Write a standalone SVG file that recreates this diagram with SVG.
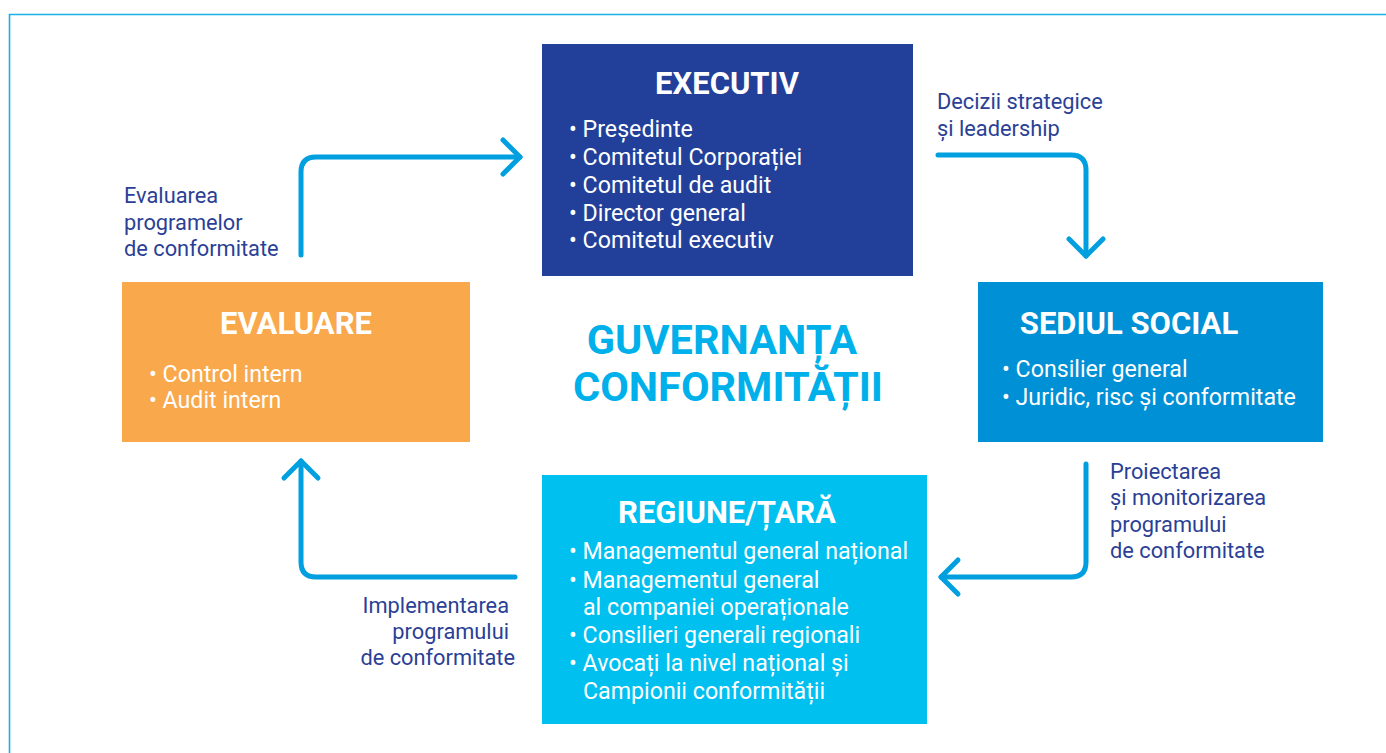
<svg xmlns="http://www.w3.org/2000/svg" width="1386" height="753" viewBox="0 0 1386 753">
<defs>
<style>
.title{font-family:Roboto,"Liberation Sans",sans-serif;font-weight:bold;font-size:31px;fill:#fff;text-anchor:middle;}
.item{font-family:Roboto,"Liberation Sans",sans-serif;font-size:23.2px;fill:#fff;}
.lbl{font-family:Roboto,"Liberation Sans",sans-serif;font-size:21.8px;fill:#2b3f96;}
.conn{fill:none;stroke:#009fe0;stroke-width:5;stroke-linecap:round;stroke-linejoin:round;}
.center{font-family:Roboto,"Liberation Sans",sans-serif;font-weight:bold;font-size:41.5px;fill:#00b0ea;text-anchor:middle;}
</style>
</defs>
<rect width="1386" height="753" fill="#fff"/>
<path d="M9.5 753 V14.5 H1386" fill="none" stroke="#1ab0e8" stroke-width="1.6"/>

<g id="connectors">
<path class="conn" d="M301 255 V172 Q301 157 316 157 H520"/>
<path class="conn" d="M503 140 L520 157 L503 174"/>
<path class="conn" d="M938 155 H1071 Q1086 155 1086 170 V256"/>
<path class="conn" d="M1069 239 L1086 256 L1103 239"/>
<path class="conn" d="M1086 464 V562 Q1086 577 1071 577 H941"/>
<path class="conn" d="M958 560 L941 577 L958 594"/>
<path class="conn" d="M515 577 H316 Q301 577 301 562 V461"/>
<path class="conn" d="M284 478 L301 461 L318 478"/>
</g>

<g id="label-evaluarea">
<text class="lbl" x="124" y="203">Evaluarea</text>
<text class="lbl" x="124" y="230">programelor</text>
<text class="lbl" x="124" y="256">de conformitate</text>
</g>
<g id="label-decizii">
<text class="lbl" x="937" y="109">Decizii strategice</text>
<text class="lbl" x="937" y="136">și leadership</text>
</g>
<g id="label-proiectarea">
<text class="lbl" x="1110" y="479">Proiectarea</text>
<text class="lbl" x="1110" y="505">și monitorizarea</text>
<text class="lbl" x="1110" y="532">programului</text>
<text class="lbl" x="1110" y="558">de conformitate</text>
</g>
<g id="label-implementarea">
<text class="lbl" x="509" y="613" text-anchor="end">Implementarea</text>
<text class="lbl" x="509" y="639" text-anchor="end">programului</text>
<text class="lbl" x="515" y="665" text-anchor="end">de conformitate</text>
</g>

<g id="executiv">
<rect x="542" y="44" width="371" height="232" fill="#22409a"/>
<text class="title" x="727" y="94">EXECUTIV</text>
<text class="item" x="569" y="137">• Președinte</text>
<text class="item" x="569" y="165">• Comitetul Corporației</text>
<text class="item" x="569" y="193">• Comitetul de audit</text>
<text class="item" x="569" y="221">• Director general</text>
<text class="item" x="569" y="248">• Comitetul executiv</text>
</g>

<g id="evaluare">
<rect x="122" y="282" width="348" height="160" fill="#f9a84b"/>
<text class="title" x="296" y="334">EVALUARE</text>
<text class="item" x="149" y="382">• Control intern</text>
<text class="item" x="149" y="408">• Audit intern</text>
</g>

<g id="sediul-social">
<rect x="978" y="282" width="345" height="160" fill="#0090d5"/>
<text class="title" x="1129" y="334">SEDIUL SOCIAL</text>
<text class="item" x="1002" y="377">• Consilier general</text>
<text class="item" x="1002" y="405">• Juridic, risc și conformitate</text>
</g>

<g id="regiune">
<rect x="542" y="475" width="385" height="249" fill="#00c0f0"/>
<text class="title" x="727" y="523">REGIUNE/ȚARĂ</text>
<text class="item" x="569" y="559">• Managementul general național</text>
<text class="item" x="569" y="588">• Managementul general</text>
<text class="item" x="583" y="615">al companiei operaționale</text>
<text class="item" x="569" y="643">• Consilieri generali regionali</text>
<text class="item" x="569" y="671">• Avocați la nivel național și</text>
<text class="item" x="583" y="699">Campionii conformității</text>
</g>

<g id="center-title">
<text class="center" x="722" y="354">GUVERNANȚA</text>
<text class="center" x="728" y="401">CONFORMITĂȚII</text>
</g>
</svg>
